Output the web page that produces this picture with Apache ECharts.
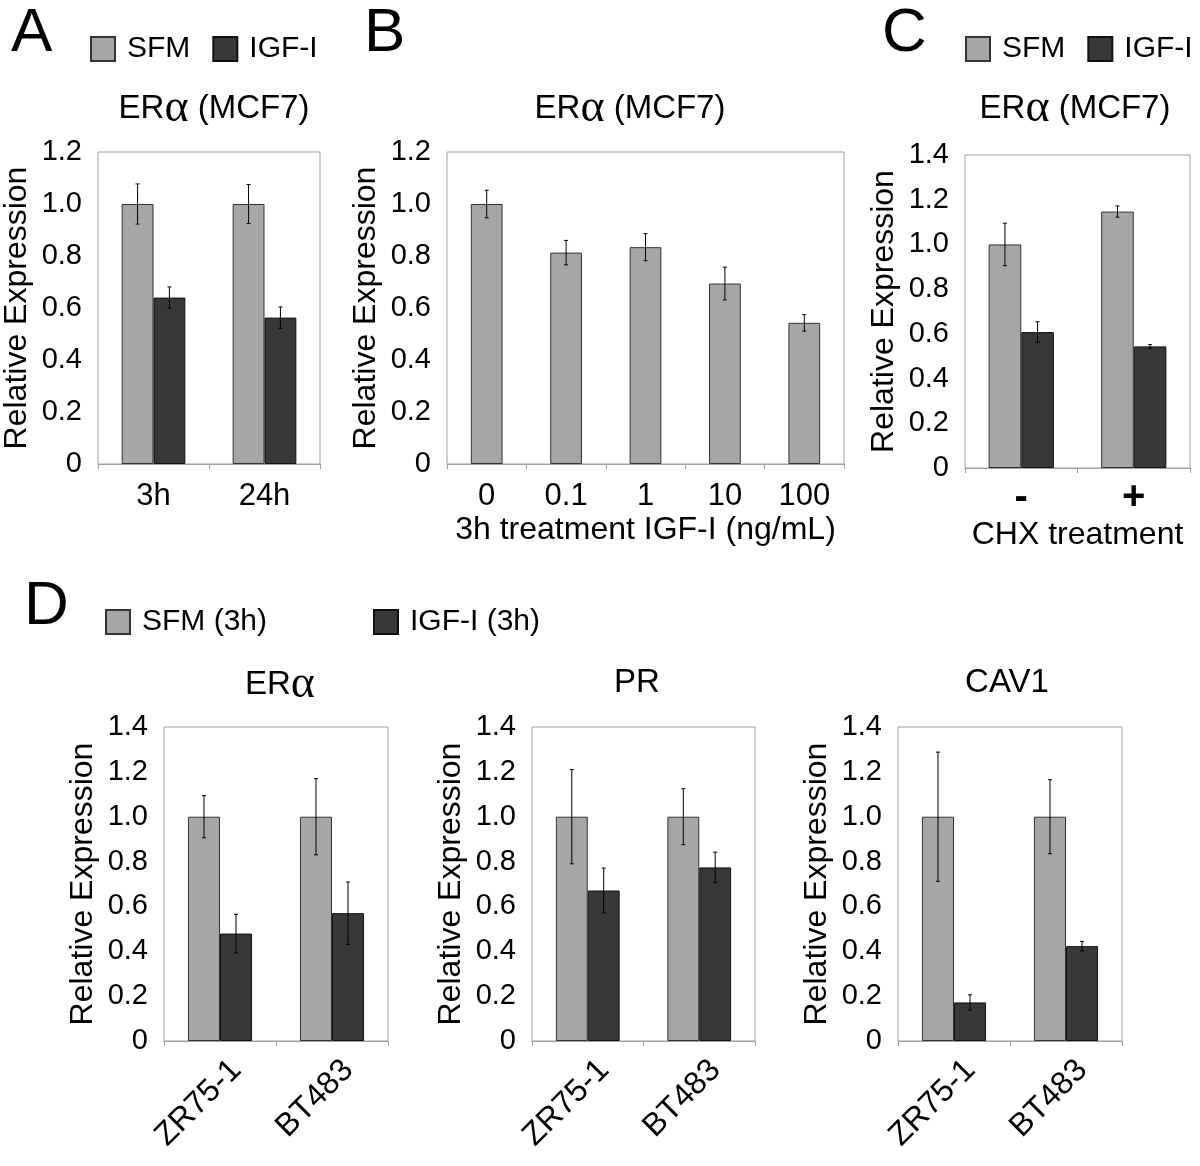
<!DOCTYPE html>
<html lang="en">

<head>
    <meta charset="UTF-8">
    <title>IGF-I and ERα expression</title>
    <script src="https://cdn.jsdelivr.net/npm/echarts/dist/echarts.min.js"></script>
    <style>
        * {
            padding: 0;
            margin: 0;
        }

        html,
        body {
            width: 100%;
            height: 100%;
            background: #fff;
        }

        #chart {
            width: 1200px;
            height: 1166px;
        }
    </style>
</head>

<body>
    <div id="chart"></div>
</body>

</html>
<script>
    // ---- data ----
    // A: ERa in MCF7, 3h / 24h
    let timeCats = ['3h', '24h'];
    let aSFM = [1.0, 1.0];
    let aSFMErr = [0.077, 0.075];
    let aIGF = [0.64, 0.563];
    let aIGFErr = [0.041, 0.041];

    // B: dose response, 3h
    let doseCats = ['0', '0.1', '1', '10', '100'];
    let bVals = [1.0, 0.813, 0.834, 0.694, 0.543];
    let bErr = [0.053, 0.047, 0.052, 0.063, 0.032];

    // C: CHX treatment
    let chxCats = ['-', '+'];
    let cSFM = [1.0, 1.147];
    let cSFMErr = [0.095, 0.025];
    let cIGF = [0.608, 0.544];
    let cIGFErr = [0.046, 0.008];

    // D: other cell lines
    let lineCats = ['ZR75-1', 'BT483'];
    let erSFM = [1.0, 1.0];
    let erSFMErr = [0.094, 0.17];
    let erIGF = [0.479, 0.57];
    let erIGFErr = [0.086, 0.139];
    let prSFM = [1.0, 1.0];
    let prSFMErr = [0.21, 0.125];
    let prIGF = [0.671, 0.774];
    let prIGFErr = [0.10, 0.068];
    let cavSFM = [1.0, 1.0];
    let cavSFMErr = [0.288, 0.165];
    let cavIGF = [0.172, 0.423];
    let cavIGFErr = [0.034, 0.021];

    let ticks12 = { max: 1.2, interval: 0.2 };
    let ticks14 = { max: 1.4, interval: 0.2 };

    // ---- styles ----
    const FONT = 'Liberation Sans, Arial, sans-serif';
    const LIGHT = { color: '#a6a6a6', borderColor: '#333', borderWidth: 1 };
    const DARK = { color: '#383838', borderColor: '#111', borderWidth: 1 };
    const BOX = '#a0a0a0';

    var myChart = echarts.init(document.getElementById('chart'));

    let grids = [
        { left: 97, top: 152, width: 223, height: 312 },
        { left: 447, top: 152, width: 397, height: 312 },
        { left: 965, top: 155, width: 225, height: 313 },
        { left: 164, top: 727, width: 224, height: 314 },
        { left: 532, top: 727, width: 223, height: 314 },
        { left: 898, top: 727, width: 224, height: 314 }
    ].map(g => Object.assign(g, { show: true, borderColor: BOX, borderWidth: 1 }));

    function xAxisFor(idx, cats, extra) {
        return Object.assign({
            type: 'category',
            gridIndex: idx,
            data: cats,
            axisLine: { lineStyle: { color: BOX } },
            axisTick: { show: true, length: 5, lineStyle: { color: BOX } },
            axisLabel: { color: '#000', fontSize: 31, fontFamily: FONT, margin: 17 },
            nameTextStyle: { color: '#000', fontSize: 32, fontFamily: FONT }
        }, extra || {});
    }

    function yAxisFor(idx, t) {
        return {
            type: 'value',
            gridIndex: idx,
            min: 0,
            max: t.max,
            interval: t.interval,
            name: 'Relative Expression',
            nameLocation: 'middle',
            nameGap: 65,
            nameTextStyle: { color: '#000', fontSize: 32, fontFamily: FONT },
            axisLine: { show: false },
            axisTick: { show: false },
            splitLine: { show: false },
            axisLabel: {
                color: '#000', fontSize: 29, fontFamily: FONT, margin: 16,
                formatter: v => v === 0 ? '0' : v.toFixed(1)
            }
        };
    }

    // error bars drawn on the category axis, shifted left/right for grouped bars
    function errSeries(idx, vals, errs, shift) {
        return {
            type: 'custom',
            xAxisIndex: idx,
            yAxisIndex: idx,
            z: 10,
            silent: true,
            data: vals.map((v, i) => [i, v - errs[i], v + errs[i]]),
            renderItem: function (params, api) {
                let lo = api.coord([api.value(0), api.value(1)]);
                let hi = api.coord([api.value(0), api.value(2)]);
                let band = api.size([1, 0])[0];
                let x = lo[0] + band * shift;
                let st = { stroke: '#000', lineWidth: 1 };
                return {
                    type: 'group',
                    children: [
                        { type: 'line', shape: { x1: x, y1: hi[1], x2: x, y2: lo[1] }, style: st },
                        { type: 'line', shape: { x1: x - 2, y1: hi[1], x2: x + 2, y2: hi[1] }, style: st },
                        { type: 'line', shape: { x1: x - 2, y1: lo[1], x2: x + 2, y2: lo[1] }, style: st }
                    ]
                };
            }
        };
    }

    function barPair(idx, names, sfm, sfmErr, igf, igfErr, w) {
        return [
            { name: names[0], type: 'bar', xAxisIndex: idx, yAxisIndex: idx, data: sfm, barWidth: w * 100 + '%', barGap: '0%', itemStyle: LIGHT },
            { name: names[1], type: 'bar', xAxisIndex: idx, yAxisIndex: idx, data: igf, barWidth: w * 100 + '%', barGap: '0%', itemStyle: DARK },
            errSeries(idx, sfm, sfmErr, -w / 2),
            errSeries(idx, igf, igfErr, w / 2)
        ];
    }

    function heading(text, left, top) {
        return {
            text: text, left: left, top: top, padding: 0, textAlign: 'center',
            textStyle: {
                color: '#000', fontSize: 33, fontWeight: 'normal', fontFamily: FONT,
                rich: { a: { fontSize: 46, fontFamily: 'Liberation Serif, serif', color: '#000' } }
            }
        };
    }

    function letter(text, left, top) {
        return { text: text, left: left, top: top, padding: 0, textStyle: { color: '#000', fontSize: 62, fontWeight: 'normal', fontFamily: FONT } };
    }

    function legendAt(left, top, names, gap) {
        return {
            left: left, top: top, data: names, itemGap: gap || 22, selectedMode: false,
            icon: 'rect', itemWidth: 24, itemHeight: 24,
            textStyle: { color: '#000', fontSize: 30, fontFamily: FONT, padding: [0, 0, 0, 7] }
        };
    }

    // rotated cell line labels; an empty first line pushes the text down/right like the original
    let rot = {
        rotate: 45, color: '#000', fontSize: 32, fontFamily: FONT, margin: 8,
        formatter: v => '{s| }\n{t|' + v + '}',
        rich: {
            s: { fontSize: 8, lineHeight: 46 },
            t: { fontSize: 32, lineHeight: 34, fontFamily: FONT, color: '#000' }
        }
    };

    option = {
        backgroundColor: '#fff',
        animation: false,
        title: [
            letter('A', 11, 3),
            letter('B', 364, 3),
            letter('C', 882, 3),
            letter('D', 24, 576),
            heading('ER{a|α} (MCF7)', 214, 86),
            heading('ER{a|α} (MCF7)', 630, 86),
            heading('ER{a|α} (MCF7)', 1075, 86),
            heading('ER{a|α}', 280, 662),
            heading('PR', 637, 666),
            heading('CAV1', 1007, 666)
        ],
        legend: [
            legendAt(85, 29, ['SFM', 'IGF-I']),
            legendAt(960, 29, ['SFM', 'IGF-I']),
            legendAt(100, 602, ['SFM (3h)']),
            legendAt(368, 602, ['IGF-I (3h)'])
        ],
        grid: grids,
        xAxis: [
            xAxisFor(0, timeCats),
            xAxisFor(1, doseCats, { name: '3h treatment IGF-I (ng/mL)', nameLocation: 'middle', nameGap: 50 }),
            xAxisFor(2, chxCats, {
                name: 'CHX treatment', nameLocation: 'middle', nameGap: 42,
                axisLabel: { color: '#000', fontSize: 40, fontWeight: 'bold', fontFamily: FONT, margin: 10 }
            }),
            xAxisFor(3, lineCats, { axisLabel: rot }),
            xAxisFor(4, lineCats, { axisLabel: rot }),
            xAxisFor(5, lineCats, { axisLabel: rot })
        ],
        yAxis: [
            yAxisFor(0, ticks12),
            yAxisFor(1, ticks12),
            yAxisFor(2, ticks14),
            yAxisFor(3, ticks14),
            yAxisFor(4, ticks14),
            yAxisFor(5, ticks14)
        ],
        series: [].concat(
            barPair(0, ['SFM', 'IGF-I'], aSFM, aSFMErr, aIGF, aIGFErr, 0.287),
            [
                { name: 'SFM', type: 'bar', xAxisIndex: 1, yAxisIndex: 1, data: bVals, barWidth: '40%', itemStyle: LIGHT },
                errSeries(1, bVals, bErr, 0)
            ],
            barPair(2, ['SFM', 'IGF-I'], cSFM, cSFMErr, cIGF, cIGFErr, 0.29),
            barPair(3, ['SFM (3h)', 'IGF-I (3h)'], erSFM, erSFMErr, erIGF, erIGFErr, 0.286),
            barPair(4, ['SFM (3h)', 'IGF-I (3h)'], prSFM, prSFMErr, prIGF, prIGFErr, 0.286),
            barPair(5, ['SFM (3h)', 'IGF-I (3h)'], cavSFM, cavSFMErr, cavIGF, cavIGFErr, 0.286)
        )
    };

    myChart.setOption(option);
</script>
